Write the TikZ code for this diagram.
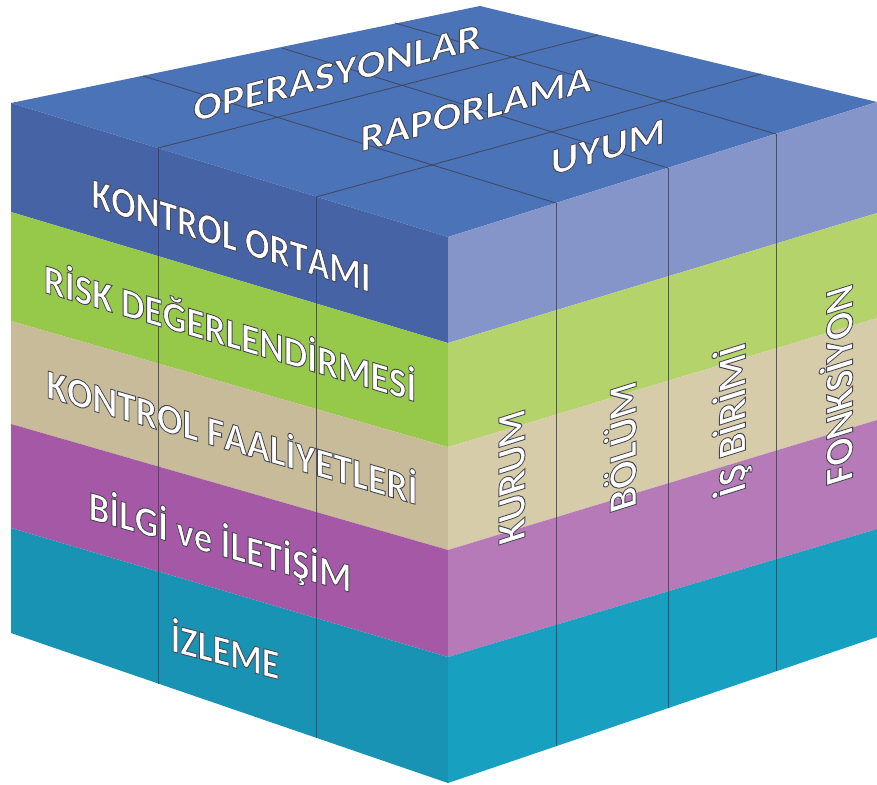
\documentclass[tikz,border=0pt]{standalone}
\usepackage{fontspec}
\setmainfont{Carlito}[Kerning=Off]
\usepackage{tikz}
\definecolor{topblue}{RGB}{75,116,184}
\definecolor{envL}{RGB}{70,99,166}
\definecolor{envR}{RGB}{133,149,202}
\definecolor{riskL}{RGB}{150,200,74}
\definecolor{riskR}{RGB}{180,211,107}
\definecolor{actL}{RGB}{200,187,153}
\definecolor{actR}{RGB}{214,204,170}
\definecolor{infoL}{RGB}{165,88,166}
\definecolor{infoR}{RGB}{181,122,183}
\definecolor{monL}{RGB}{24,147,179}
\definecolor{monR}{RGB}{23,160,192}
\definecolor{edge}{RGB}{62,66,88}
\tikzstyle{gridline} = [draw=edge, line width=0.9pt, opacity=0.85]
\tikzstyle{facetext} = [text=white, inner sep=0pt, font=\bfseries\fontsize{40}{40}\selectfont]
% white letters with a thin dark rim
\newcommand{\rimmed}[1]{\special{pdf:literal direct 2 Tr 0.9 w 0.28 0.28 0.33 RG}#1\special{pdf:literal direct 0 Tr}}
\newcommand{\cubetext}[4]{%
  \node[facetext, cm={#2,(0,0)}] (#1) at #3 {\rimmed{#4}};
}

\begin{document}
\begin{tikzpicture}[x=1pt, y=-1pt]
    \useasboundingbox (0,0) rectangle (877,784);
    % top face
    \fill[topblue] (11,103) -- (480,6) -- (877,102) -- (448,237) -- cycle;
    % left face
    \fill[envL]  (11,103) -- (448,237) -- (448,343) -- (11,212) -- cycle;
    \fill[riskL] (11,212) -- (448,343) -- (448,447) -- (11,321) -- cycle;
    \fill[actL]  (11,321) -- (448,447) -- (448,550) -- (11,424) -- cycle;
    \fill[infoL] (11,424) -- (448,550) -- (448,657) -- (11,528) -- cycle;
    \fill[monL]  (11,528) -- (448,657) -- (448,783) -- (11,633) -- cycle;
    % right face
    \fill[envR]  (448,237) -- (877,102) -- (877,213) -- (448,343) -- cycle;
    \fill[riskR] (448,343) -- (877,213) -- (877,318) -- (448,447) -- cycle;
    \fill[actR]  (448,447) -- (877,318) -- (877,420) -- (448,550) -- cycle;
    \fill[infoR] (448,550) -- (877,420) -- (877,529) -- (448,657) -- cycle;
    \fill[monR]  (448,657) -- (877,529) -- (877,637) -- (448,783) -- cycle;

    \draw[gridline] (158,148) -- (158,683.5);
    \draw[gridline] (316,196.5) -- (316,737.7);
    \draw[gridline] (556,203) -- (556,746);
    \draw[gridline] (668,168) -- (668,708);
    \draw[gridline] (776,134) -- (776,671);
    \draw[gridline] (143,76) -- (556,203);
    \draw[gridline] (282,48) -- (668,168);
    \draw[gridline] (395,23) -- (776,134);
    \draw[gridline] (158,148) -- (598,35);
    \draw[gridline] (316,197) -- (761,74);

    \cubetext{ops}{1.06,0.27,0,0.95}{(337,73)}{OPERASYONLAR}
    \cubetext{rep}{1.06,0.28,0,0.95}{(476,109)}{RAPORLAMA}
    \cubetext{comp}{1.06,0.30,0,0.95}{(608,147)}{UYUM}

    \cubetext{ctrlenv}{0.90,-0.276,0,1.06}{(231,236)}{KONTROL ORTAMI}
    \cubetext{riskass}{0.93,-0.274,0,1.04}{(230,330)}{RİSK DEĞERLENDİRMESİ}
    \cubetext{ctrlact}{0.94,-0.272,0,1.04}{(232,434)}{KONTROL FAALİYETLERİ}
    \cubetext{infocom}{0.92,-0.257,0,1.04}{(220,542)}{BİLGİ ve İLETİŞİM}
    \cubetext{monitor}{0.90,-0.235,0,1.04}{(225,648)}{İZLEME}

    \cubetext{entity}{0,1.0,-1,-0.315}{(512,477)}{KURUM}
    \cubetext{division}{0,1.0,-1,-0.315}{(620,448)}{BÖLÜM}
    \cubetext{unit}{0,1.0,-1,-0.315}{(732,420)}{İŞ BİRİMİ}
    \cubetext{function}{0,1.0,-1,-0.315}{(836,386)}{FONKSİYON}
\end{tikzpicture}
\end{document}
